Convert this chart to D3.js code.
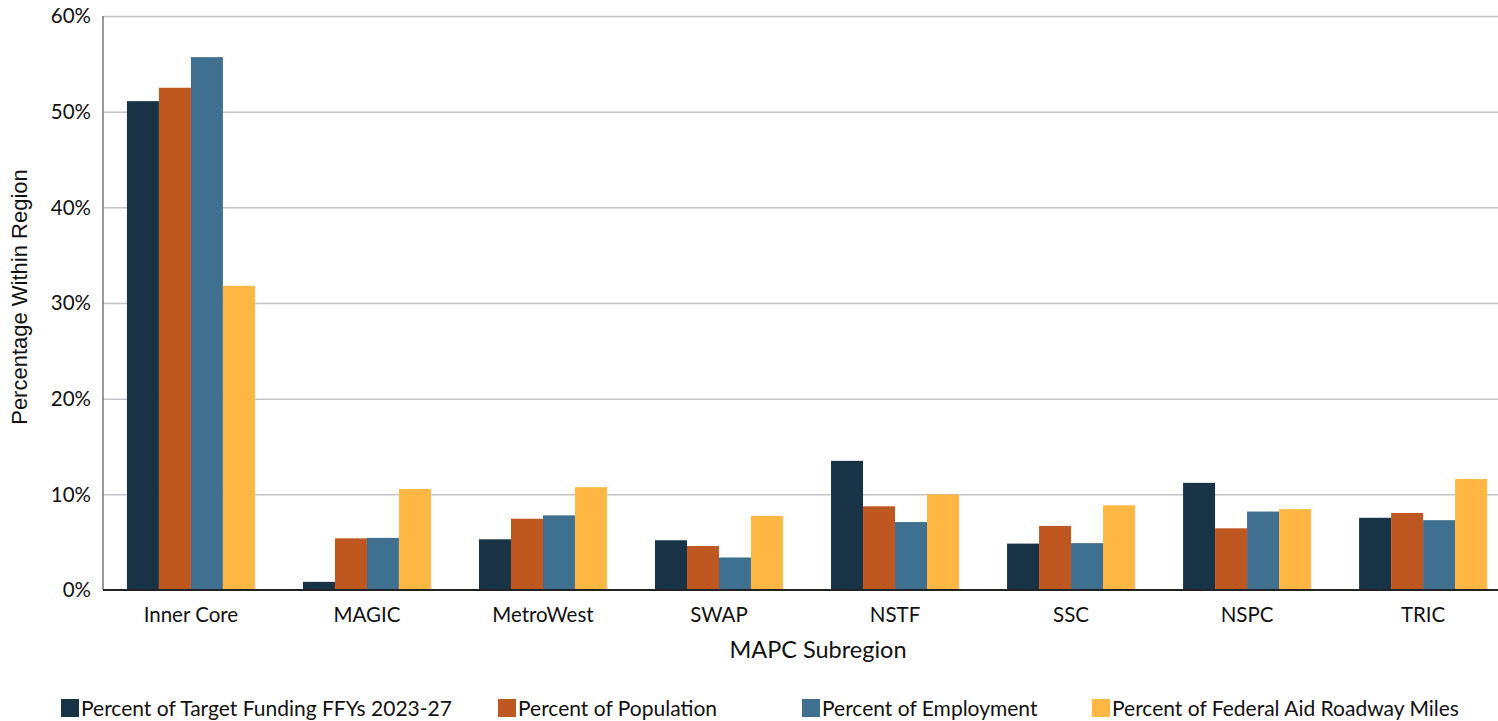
<!DOCTYPE html>
<html>
<head>
  <script src="https://d3js.org/d3.v7.min.js"></script>
  <style>
    body { margin: 0; background: #fff; }
    text { font-family: Lato, "Open Sans", sans-serif; fill: #111; }
    .grid line { stroke: #c4c4c4; stroke-width: 1.5px; }
    .grid path { display: none; }
  </style>
</head>
<body>
  <svg id="chart"></svg>
  <script>
    var categories = ["Inner Core", "MAGIC", "MetroWest", "SWAP", "NSTF", "SSC", "NSPC", "TRIC"];
    var seriesNames = ["Percent of Target Funding FFYs 2023-27", "Percent of Population",
                       "Percent of Employment", "Percent of Federal Aid Roadway Miles"];
    var funding    = [51.1, 0.85, 5.3, 5.2, 13.5, 4.85, 11.2, 7.55];
    var population = [52.5, 5.4, 7.45, 4.6, 8.75, 6.7, 6.45, 8.05];
    var employment = [55.7, 5.45, 7.8, 3.4, 7.1, 4.9, 8.2, 7.3];
    var roadway    = [31.8, 10.55, 10.75, 7.75, 10.0, 8.85, 8.45, 11.6];
    var yTicks = [0, 10, 20, 30, 40, 50, 60];
    var colors = ["#193346", "#bf5820", "#407090", "#fdb742"];

    var series = [funding, population, employment, roadway];

    var W = 1498, H = 721;
    var margin = { top: 16, right: 0, bottom: 131, left: 103 };
    var width = W - margin.left - margin.right;
    var height = H - margin.top - margin.bottom;

    var svg = d3.select("#chart").attr("width", W).attr("height", H);
    var g = svg.append("g").attr("transform", "translate(" + margin.left + "," + margin.top + ")");

    // the plot runs a little past the right edge of the picture
    var x = d3.scaleBand().domain(categories).range([0, 1408]).paddingInner(0.273).paddingOuter(0.136);
    var x1 = d3.scaleBand().domain(d3.range(series.length)).range([0, x.bandwidth()]);
    var y = d3.scaleLinear().domain([0, 60]).range([height, 0]);

    // gridlines
    g.append("g").attr("class", "grid")
      .call(d3.axisLeft(y).tickValues(yTicks.slice(1)).tickSize(-width).tickFormat(""));

    // y tick labels
    g.selectAll(".ytick").data(yTicks).enter().append("text")
      .attr("x", -12).attr("y", function(d) { return y(d); })
      .attr("dy", "0.35em").attr("text-anchor", "end")
      .style("font-size", "20.5px").text(function(d) { return d + "%"; });

    // bars
    var groups = g.selectAll(".cat").data(categories).enter().append("g")
      .attr("transform", function(d) { return "translate(" + x(d) + ",0)"; });
    groups.selectAll("rect").data(function(d, i) {
        return series.map(function(s, j) { return { s: j, v: s[i] }; });
      }).enter().append("rect")
      .attr("x", function(d) { return x1(d.s); })
      .attr("width", x1.bandwidth())
      .attr("y", function(d) { return y(d.v); })
      .attr("height", function(d) { return height - y(d.v); })
      .attr("fill", function(d) { return colors[d.s]; });

    // axes lines
    g.append("line").attr("x1", 0).attr("x2", 0).attr("y1", 0).attr("y2", height)
      .attr("stroke", "#777").attr("stroke-width", 1.5);
    g.append("line").attr("x1", 0).attr("x2", width).attr("y1", height).attr("y2", height)
      .attr("stroke", "#222").attr("stroke-width", 2);

    // category labels
    g.selectAll(".xlab").data(categories).enter().append("text")
      .attr("x", function(d) { return x(d) + x.bandwidth() / 2; })
      .attr("y", height + 32).attr("text-anchor", "middle")
      .style("font-size", "20.5px").text(function(d) { return d; });

    // axis titles
    svg.append("text").attr("x", 818).attr("y", 658).attr("text-anchor", "middle")
      .style("font-size", "23.5px").text("MAPC Subregion");
    svg.append("text").attr("transform", "translate(27,297) rotate(-90)")
      .attr("text-anchor", "middle")
      .style("font-family", "'Liberation Sans', Arial, sans-serif")
      .style("font-size", "22px").text("Percentage Within Region");

    // legend
    var legendX = [61, 498, 802, 1092];
    var leg = svg.selectAll(".leg").data(seriesNames).enter().append("g")
      .attr("transform", function(d, i) { return "translate(" + legendX[i] + ",699)"; });
    leg.append("rect").attr("width", 18).attr("height", 18)
      .attr("fill", function(d, i) { return colors[i]; });
    leg.append("text").attr("x", 20).attr("y", 17)
      .style("font-size", "21px").text(function(d) { return d; });
  </script>
</body>
</html>
